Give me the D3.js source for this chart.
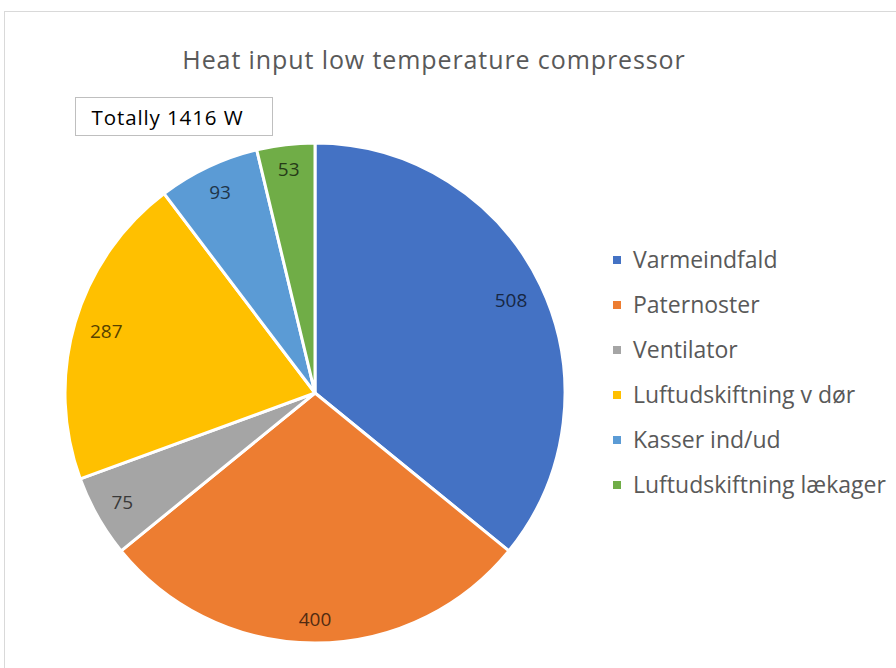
<!DOCTYPE html>
<html>
<head>
<meta charset="utf-8">
<script src="https://cdn.jsdelivr.net/npm/d3@7"></script>
<style>
  html, body { margin: 0; padding: 0; background: #fff; }
  svg { display: block; font-family: 'Open Sans', sans-serif; }
</style>
</head>
<body>
<div id="chart"></div>
<script>
// Data
const categories = ['Varmeindfald', 'Paternoster', 'Ventilator', 'Luftudskiftning v dør', 'Kasser ind/ud', 'Luftudskiftning lækager']
const values = [508, 400, 75, 287, 93, 53]
const colors = ['#4472c4', '#ed7d31', '#a5a5a5', '#ffc000', '#5b9bd5', '#70ad47']
const titleText = 'Heat input low temperature compressor'
const totalText = 'Totally 1416 W'

const width = 896
const height = 668
const cx = 315
const cy = 393
const radius = 250

const svg = d3.select('#chart')
  .append('svg')
  .attr('width', width)
  .attr('height', height)

// Chart area border (runs off the right and bottom of the picture)
svg.append('rect')
  .attr('x', 4.5)
  .attr('y', 11.5)
  .attr('width', width + 20)
  .attr('height', height + 20)
  .attr('fill', '#fff')
  .attr('stroke', '#d9d9d9')

// Title
svg.append('text')
  .attr('x', 434)
  .attr('y', 69)
  .attr('text-anchor', 'middle')
  .attr('font-size', '25px')
  .attr('letter-spacing', '0.9px')
  .attr('fill', '#595959')
  .text(titleText)

// Pie
const data = categories.map((c, i) => ({ name: c, value: values[i], color: colors[i] }))
const pie = d3.pie().sort(null).value(d => d.value)
const arc = d3.arc().innerRadius(0).outerRadius(radius)

const g = svg.append('g').attr('transform', `translate(${cx},${cy})`)
const arcs = pie(data)

g.selectAll('path.slice')
  .data(arcs)
  .enter()
  .append('path')
  .attr('class', 'slice')
  .attr('d', arc)
  .attr('fill', d => d.data.color)
  .attr('stroke', '#fff')
  .attr('stroke-width', 3)
  .attr('stroke-linejoin', 'round')

// Value labels at "inside end": the label box sits just inside the rim
const labels = g.selectAll('text.value')
  .data(arcs)
  .enter()
  .append('text')
  .attr('class', 'value')
  .attr('text-anchor', 'middle')
  .attr('dy', '0.35em')
  .attr('font-size', '19px')
  .attr('fill', d => d3.color(d.data.color).darker(3))
  .text(d => d.data.value)

labels.attr('transform', function (d) {
  const a = (d.startAngle + d.endAngle) / 2
  const w = this.getComputedTextLength()
  const h = 20
  const extent = (w / 2) * Math.abs(Math.sin(a)) + (h / 2) * Math.abs(Math.cos(a))
  const r = radius - 14 - extent
  return `translate(${r * Math.sin(a)},${-r * Math.cos(a)})`
})

// Text box with the total
const box = svg.append('g').attr('transform', 'translate(75.5,97.5)')
box.append('rect')
  .attr('width', 197)
  .attr('height', 38)
  .attr('fill', '#fff')
  .attr('stroke', '#bfbfbf')
box.append('text')
  .attr('x', 16)
  .attr('y', 27)
  .attr('font-size', '20.5px')
  .attr('letter-spacing', '0.9px')
  .attr('fill', '#000')
  .text(totalText)

// Legend
const legend = svg.append('g').attr('transform', 'translate(613,260)')
const item = legend.selectAll('g.item')
  .data(data)
  .enter()
  .append('g')
  .attr('class', 'item')
  .attr('transform', (d, i) => `translate(0,${i * 45})`)

item.append('rect')
  .attr('x', 0)
  .attr('y', -4)
  .attr('width', 8)
  .attr('height', 8)
  .attr('fill', d => d.color)

item.append('text')
  .attr('x', 20)
  .attr('dy', '0.35em')
  .attr('font-size', '23px')
  .attr('fill', '#595959')
  .text(d => d.name)
</script>
</body>
</html>
